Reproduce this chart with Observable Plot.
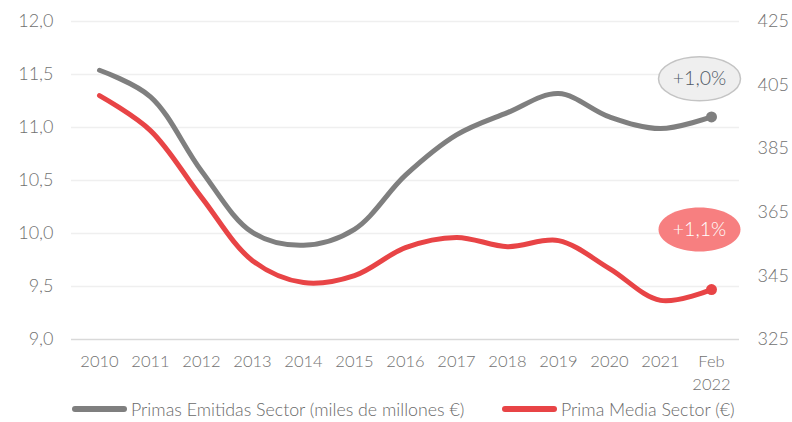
<!DOCTYPE html>
<html><head><meta charset="utf-8">
<script src="https://cdn.jsdelivr.net/npm/d3@7"></script>
<script src="https://cdn.jsdelivr.net/npm/@observablehq/plot@0.6"></script>
<style>
body{margin:0;background:#fff;font-family:Lato,sans-serif;}
#legend{position:relative;height:24px;font-size:17.8px;color:#6a6a6a;font-weight:300;}
.item{position:absolute;top:0;display:flex;align-items:center;height:22px;white-space:nowrap;}
.sw{display:inline-block;width:55px;height:6px;border-radius:3px;margin-right:4px;}
</style>
</head><body>
<div id="chart"></div>
<div id="legend"></div>
<script>
const years = ["2010","2011","2012","2013","2014","2015","2016","2017","2018","2019","2020","2021","Feb\n2022"];
const primasEmitidas = [11.54, 11.29, 10.59, 10.01, 9.89, 10.04, 10.55, 10.93, 11.14, 11.32, 11.10, 10.99, 11.10];
const primaMedia = [401.7, 390.7, 369.7, 349.8, 342.9, 345.1, 353.9, 357.1, 354.2, 356.1, 347.3, 337.3, 340.7];
const leftTicks = [9.0, 9.5, 10.0, 10.5, 11.0, 11.5, 12.0];
const rightTicks = [325, 345, 365, 385, 405, 425];
const labels = [
  {text: "+1,0%", series: "gray", value: 11.46},
  {text: "+1,1%", series: "red", value: 359.6}
];
const seriesNames = ["Primas Emitidas Sector (miles de millones €)", "Prima Media Sector (€)"];

const GRAY = "#7f7f7f", RED = "#e84446";
const FONT = "Lato, sans-serif";
const toLeft = v => 9 + (v - 325) / 100 * 3;
const grayData = years.map((x, i) => ({x, y: primasEmitidas[i]}));
const redData = years.map((x, i) => ({x, y: toLeft(primaMedia[i])}));
const last = years[years.length - 1];
const ann = labels.map(d => ({x: last, y: d.series === "gray" ? d.value : toLeft(d.value), ...d}));

const ellipse = {
  draw(ctx) {
    const rx = 41, ry = 22, k = 0.5523;
    ctx.moveTo(rx, 0);
    ctx.bezierCurveTo(rx, k*ry, k*rx, ry, 0, ry);
    ctx.bezierCurveTo(-k*rx, ry, -rx, k*ry, -rx, 0);
    ctx.bezierCurveTo(-rx, -k*ry, -k*rx, -ry, 0, -ry);
    ctx.bezierCurveTo(k*rx, -ry, rx, -k*ry, rx, 0);
    ctx.closePath();
  }
};

const fmt = d3.format(".1f");
const chart = Plot.plot({
  width: 792, height: 398,
  marginLeft: 71, marginRight: 53, marginTop: 21, marginBottom: 59,
  style: {fontFamily: FONT, color: "#717171", fontWeight: 300},
  x: {type: "point", domain: years, padding: 0.5, label: null},
  y: {domain: [9, 12], label: null},
  marks: [
    Plot.ruleY(leftTicks.slice(1), {stroke: "#efefef", strokeWidth: 1.5}),
    Plot.ruleY([9], {stroke: "#d9d9d9", strokeWidth: 1.5}),
    Plot.axisY(leftTicks, {anchor: "left", tickSize: 0, tickPadding: 18, fontSize: 18, tickFormat: d => fmt(d).replace(".", ","), label: null}),
    Plot.axisY(rightTicks.map(toLeft), {anchor: "right", tickSize: 0, tickPadding: 18, fontSize: 18, tickFormat: d => Math.round(325 + (d - 9) / 3 * 100), label: null}),
    Plot.axisX({tickSize: 0, tickPadding: 12, fontSize: 16.5, label: null, lineHeight: 1.35}),
    Plot.line(grayData, {x: "x", y: "y", stroke: GRAY, strokeWidth: 5, curve: "catmull-rom", strokeLinecap: "round"}),
    Plot.line(redData, {x: "x", y: "y", stroke: RED, strokeWidth: 5, curve: "catmull-rom", strokeLinecap: "round"}),
    Plot.dot([grayData[grayData.length - 1]], {x: "x", y: "y", r: 5.5, fill: GRAY}),
    Plot.dot([redData[redData.length - 1]], {x: "x", y: "y", r: 5.5, fill: RED}),
    Plot.dot(ann, {x: "x", y: "y", dx: -12, symbol: ellipse, r: 10,
      fill: d => d.series === "gray" ? "#efefef" : "#f77f80",
      stroke: d => d.series === "gray" ? "#c4c4c4" : "none", strokeWidth: 1.5}),
    Plot.text(ann, {x: "x", y: "y", dx: -12, text: "text", fontSize: 19.5, fontWeight: 300,
      fill: d => d.series === "gray" ? "#505a66" : "#ffffff"})
  ]
});
document.getElementById("chart").append(chart);

const lg = document.getElementById("legend");
[[GRAY, seriesNames[0], 72], [RED, seriesNames[1], 502]].forEach(([c, t, left]) => {
  const item = document.createElement("div"); item.className = "item"; item.style.left = left + "px";
  const s = document.createElement("span"); s.className = "sw"; s.style.background = c;
  const tx = document.createElement("span"); tx.textContent = t;
  item.append(s, tx);
  lg.append(item);
});
</script>
</body></html>
